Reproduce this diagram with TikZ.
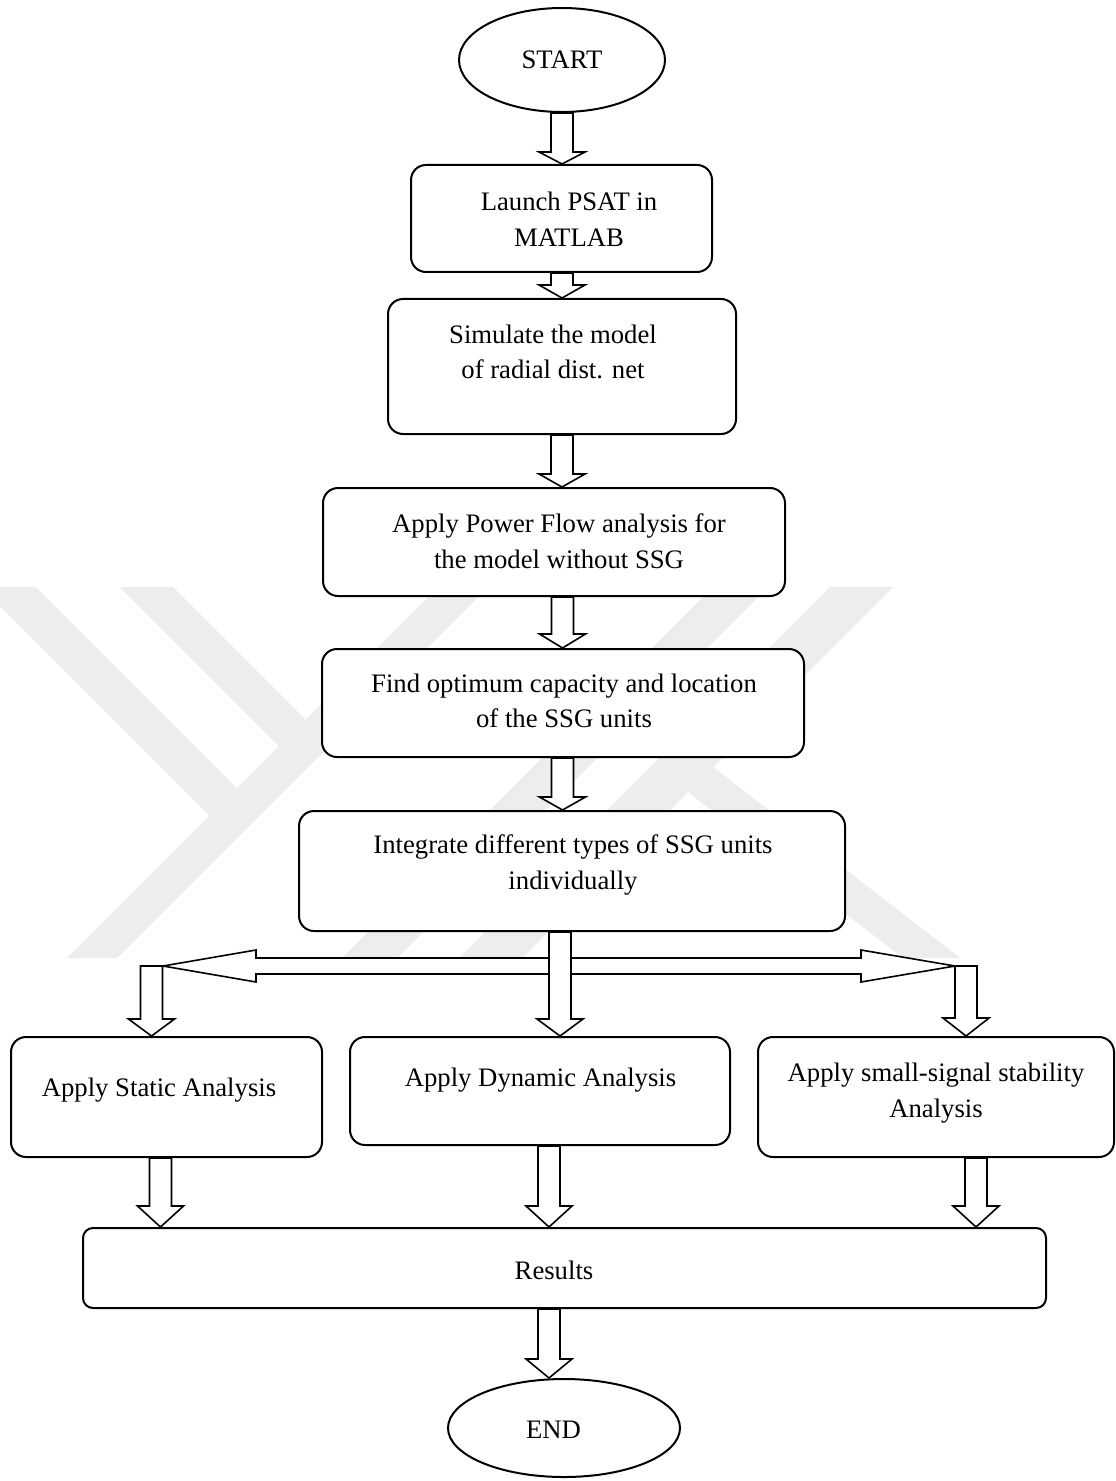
\documentclass[tikz,border=0pt]{standalone}
\usepackage{fontspec}
\setmainfont{Liberation Serif}
\usetikzlibrary{calc,shapes.geometric}

\definecolor{wmgray}{RGB}{237,237,237}

\tikzset{
  flowbox/.style={draw, line width=1pt, rounded corners=7.5pt, fill=white, inner sep=0pt},
  termnode/.style={draw, ellipse, line width=1pt, fill=white, inner sep=0pt,
                   font=\fontsize{13.35pt}{17.8pt}\selectfont},
  txt/.style={align=center, inner sep=0pt, font=\fontsize{13.35pt}{17.8pt}\selectfont},
  blockarrow/.style={draw, line width=0.8pt, fill=white, line join=miter},
  wmark/.style={fill=wmgray, draw=none},
}

% hollow downward block arrow: #1 = x in px, #2 = upper anchor, #3 = lower anchor (tip),
% #4 = head length
\newcommand\blockdown[4]{%
  \draw[blockarrow] let \p1=(#2), \p2=(#3) in
    ({#1*0.5pt-5.5pt},\y1) -- ({#1*0.5pt-5.5pt},\y2+#4) -- ({#1*0.5pt-11.5pt},\y2+#4)
    -- ({#1*0.5pt},\y2) -- ({#1*0.5pt+11.5pt},\y2+#4) -- ({#1*0.5pt+5.5pt},\y2+#4)
    -- ({#1*0.5pt+5.5pt},\y1) -- cycle;}

\begin{document}
\begin{tikzpicture}[x=0.5pt, y=-0.5pt]
\useasboundingbox (0,0) rectangle (1115,1481);
\fill[white] (0,0) rectangle (1115,1481);

% faint background emblem
\begin{scope}
  \clip (0,587) rectangle (1115,958);
  \fill[wmark] (-19,587) -- (36,587) -- (244.5,795.5) -- (217,823) -- cycle;
  \fill[wmark] (120,587) -- (173,587) -- (320,734) -- (293.5,760.5) -- cycle;
  \fill[wmark] (438,587) -- (488,587) -- (117,958) -- (67,958) -- cycle;
  \fill[wmark] (713,587) -- (768,587) -- (397,958) -- (342,958) -- cycle;
  \fill[wmark] (830,587) -- (893,587) -- (522,958) -- (459,958) -- cycle;
  \fill[wmark] (707.4,762.6) -- (960,958) -- (903,958) -- (682.4,787.7) -- cycle;
\end{scope}

% terminals and process boxes
\node[termnode, minimum width=103pt, minimum height=52pt] (start) at (562,60) {START};
\node[flowbox, minimum width=150.5pt, minimum height=53.5pt] (launch) at (561.5,218.5) {};
\node[flowbox, minimum width=174pt, minimum height=67.5pt] (sim) at (562,366.5) {};
\node[flowbox, minimum width=231pt, minimum height=54pt] (power) at (554,542) {};
\node[flowbox, minimum width=241pt, minimum height=54pt] (find) at (563,703) {};
\node[flowbox, minimum width=273pt, minimum height=60pt] (integ) at (572,871) {};
\node[flowbox, minimum width=155.5pt, minimum height=60pt] (static) at (166.5,1097) {};
\node[flowbox, minimum width=190pt, minimum height=54pt] (dyn) at (540,1091) {};
\node[flowbox, minimum width=178pt, minimum height=60pt] (small) at (936,1097) {};
\node[flowbox, rounded corners=5pt, minimum width=481.5pt, minimum height=40pt] (results) at (564.5,1268) {};
\node[termnode, minimum width=116pt, minimum height=49pt] (end) at (564,1428) {};

% box texts
\node[txt] (launchT) at (569,219) {Launch PSAT in\\MATLAB};
\node[txt] (simT) at (553,352) {Simulate the model\\of radial dist. net};
\node[txt] (powerT) at (559,541) {Apply Power Flow analysis for\\the model without SSG};
\node[txt] (findT) at (564,701) {Find optimum capacity and location\\of the SSG units};
\node[txt] (integT) at (573,865) {Integrate different types of SSG units\\individually};
\node[txt] (staticT) at (159,1090) {Apply Static Analysis};
\node[txt] (dynT) at (540.5,1080) {Apply Dynamic Analysis};
\node[txt] (smallT) at (936,1093) {Apply small-signal stability\\Analysis};
\node[txt] (resultsT) at (554,1270) {Results};
\node[txt] (endT) at (553.5,1430) {END};

% main chain
\blockdown{562}{start.south}{launch.north}{6pt}
\blockdown{562}{launch.south}{sim.north}{6.5pt}
\blockdown{562}{sim.south}{power.north}{6.5pt}
\blockdown{562.5}{power.south}{find.north}{7pt}
\blockdown{562.5}{find.south}{integ.north}{6.5pt}

% fork to the three analyses
\coordinate (forkL) at (163,966);
\coordinate (forkR) at (955,966);
\draw[blockarrow] (forkL) -- (256,950) -- (256,958) -- (861,958) -- (861,950) -- (forkR)
  -- (861,982) -- (861,974) -- (256,974) -- (256,982) -- cycle;
\blockdown{151.5}{forkL}{static.north}{8.5pt}
\blockdown{966}{forkR}{small.north}{9pt}
\blockdown{560}{integ.south}{dyn.north}{8.5pt}

% join into results and finish
\blockdown{160.5}{static.south}{results.north}{10.5pt}
\blockdown{549}{dyn.south}{results.north}{10.5pt}
\blockdown{976}{small.south}{results.north}{10.5pt}
\blockdown{549}{results.south}{end.north}{9.5pt}
\end{tikzpicture}
\end{document}
